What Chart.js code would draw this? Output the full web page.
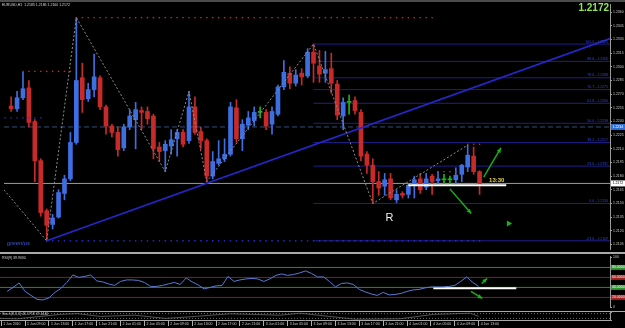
<!DOCTYPE html>
<html lang="en">
<head>
<meta charset="UTF-8">
<title>EURUSD,H1</title>
<script src="https://cdn.jsdelivr.net/npm/chart.js"></script>
<style>
  html, body { margin: 0; padding: 0; background: #000; }
  #wrap { position: relative; width: 625px; height: 328px; background: #000; overflow: hidden; }
  #wrap canvas { position: absolute; left: 0; }
  #main { top: 0; }
  #rsi { top: 253px; }
  #stoch { top: 311px; }
  .sep { position: absolute; left: 0; width: 625px; background: #a8a8a8; }
</style>
</head>
<body>
<div id="wrap">
  <canvas id="main" width="625" height="253"></canvas>
  <canvas id="rsi" width="625" height="58"></canvas>
  <canvas id="stoch" width="625" height="17"></canvas>
  <div class="sep" style="top:0;height:2px;background:#4c4c4c"></div>
  <div class="sep" style="top:252px;height:2px"></div>
  <div class="sep" style="top:311px;height:1px"></div>
</div>
<script>
// ---- data (EURUSD H1, 1 Jun 06:00 .. 4 Jun 13:00, one entry per bar) ----
const open = [1.2257,1.2254,1.2266,1.2277,1.2240,1.2197,1.2142,1.2127,1.2135,1.2161,
  1.2177,1.2217,1.2288,1.2265,1.2275,1.2288,1.2256,1.2235,1.2228,1.2211,
  1.2234,1.2242,1.2252,1.2251,1.2246,1.2212,1.2208,1.2213,1.2221,1.2228,
  1.2219,1.2256,1.2229,1.2219,1.2180,1.2194,1.2199,1.2204,1.2255,1.2221,
  1.2236,1.2241,1.2250,1.2250,1.2237,1.2248,1.2278,1.2293,1.2282,1.2293,
  1.2290,1.2316,1.2301,1.2293,1.2298,1.2281,1.2246,1.2261,1.2263,1.2250,
  1.2204,1.2192,1.2174,1.2169,1.2177,1.2154,1.2161,1.2160,1.2170,1.2177,
  1.2168,1.2180,1.2175,1.2176,1.2176,1.2176,1.2182,1.2190,1.2202,1.2185];
const high = [1.2267,1.2273,1.2294,1.2285,1.2242,1.2199,1.2144,1.2138,1.2165,1.2181,
  1.2228,1.2354,1.2304,1.2282,1.2314,1.2290,1.2258,1.2237,1.2234,1.2237,
  1.2253,1.2261,1.2256,1.2256,1.2248,1.2217,1.2219,1.2231,1.2231,1.2231,
  1.2273,1.2267,1.2234,1.2221,1.2207,1.2219,1.2221,1.2261,1.2264,1.2242,
  1.2251,1.2256,1.2256,1.2253,1.2256,1.2280,1.2307,1.2300,1.2297,1.2298,
  1.2320,1.2325,1.2318,1.2317,1.2315,1.2285,1.2266,1.2269,1.2267,1.2253,
  1.2207,1.2199,1.2185,1.2183,1.2183,1.2165,1.2163,1.2172,1.2180,1.2183,
  1.2183,1.2182,1.2185,1.2182,1.2180,1.2189,1.2193,1.2214,1.2212,1.2186];
const low = [1.2251,1.2251,1.2264,1.2234,1.2174,1.2136,1.2109,1.2122,1.2134,1.2154,
  1.2175,1.2215,1.2250,1.2262,1.2267,1.2253,1.2226,1.2223,1.2202,1.2208,
  1.2231,1.2210,1.2231,1.2237,1.2199,1.2196,1.2185,1.2204,1.2202,1.2212,
  1.2216,1.2226,1.2210,1.2174,1.2177,1.2192,1.2196,1.2202,1.2217,1.2208,
  1.2231,1.2235,1.2244,1.2231,1.2226,1.2246,1.2275,1.2276,1.2279,1.2280,
  1.2288,1.2283,1.2283,1.2283,1.2271,1.2242,1.2231,1.2248,1.2248,1.2197,
  1.2183,1.2150,1.2159,1.2159,1.2154,1.2151,1.2156,1.2156,1.2156,1.2161,
  1.2165,1.2160,1.2172,1.2171,1.2171,1.2172,1.2174,1.2185,1.2182,1.2160];
const close = [1.2254,1.2266,1.2276,1.2239,1.2197,1.2140,1.2126,1.2134,1.2162,1.2177,
  1.2217,1.2285,1.2264,1.2275,1.2289,1.2256,1.2235,1.2228,1.2209,1.2234,
  1.2246,1.2253,1.2250,1.2243,1.2210,1.2207,1.2215,1.2220,1.2228,1.2215,
  1.2256,1.2228,1.2219,1.2180,1.2196,1.2199,1.2204,1.2256,1.2221,1.2237,
  1.2244,1.2250,1.2250,1.2235,1.2251,1.2278,1.2294,1.2282,1.2291,1.2289,
  1.2316,1.2304,1.2292,1.2297,1.2282,1.2247,1.2261,1.2261,1.2252,1.2202,
  1.2192,1.2174,1.2167,1.2176,1.2156,1.2160,1.2159,1.2170,1.2176,1.2165,
  1.2177,1.2174,1.2177,1.2176,1.2176,1.2181,1.2192,1.2203,1.2185,1.2172];
const rsi = [32,40,49,32,24,16,15,19,30,38, 50,65,60,62,65,53,51,47,44,52,
  55,55,54,50,42,42,44,47,50,46, 59,51,45,37,40,43,44,62,52,55,
  57,58,57,52,57,64,67,64,66,69, 73,68,61,61,52,41,48,49,46,36,
  31,27,24,30,25,26,28,32,35,36, 39,41,41,41,42,44,52,61,50,42];
const stochBars = [-1.2,1.7,8.9,11.7,15.6,21.4,26.5,30.7,37.4,45.7,49.1,54.6,58.3,65.8,71.4,77.6,79];
const stochVals = [20,15,70,80,45,60,20,40,78,60,85,40,10,15,70,85,45];

// axis ticks
const priceTicks = [1.2105,1.2120,1.2135,1.2150,1.2165,1.2180,1.2195,1.2210,1.2225,
  1.2240,1.2255,1.2270,1.2285,1.2300,1.2315,1.2330,1.2345,1.2360];
const xTickBars = [-1,3,7,11,15,19,23,27,31,35,39,43,47,51,55,59,63,67,71,75,79];
const xTickLabels = ['1 Jun 2010','1 Jun 09:00','1 Jun 13:00','1 Jun 17:00','1 Jun 21:00',
  '2 Jun 01:00','2 Jun 05:00','2 Jun 09:00','2 Jun 13:00','2 Jun 17:00','2 Jun 21:00',
  '3 Jun 01:00','3 Jun 05:00','3 Jun 09:00','3 Jun 13:00','3 Jun 17:00','3 Jun 21:00',
  '4 Jun 01:00','4 Jun 05:00','4 Jun 09:00','4 Jun 13:00'];

// drawn objects
const zigzagBars = [-1.2,6,11,26,30,33,51,61,77];
const zigzagPrices = [1.2165,1.2109,1.2354,1.2185,1.2273,1.2174,1.2325,1.2150,1.2214];
const trendBars = [6,101];
const trendPrices = [1.2109,1.2331];
const fibStart = 51;
const fibLevels = [1.2325,1.2306,1.2288,1.2275,1.2260,1.2238,1.2217,1.2191,1.2150,1.2109];
const fibNames = ['100.0','88.6','78.6','70.7','61.8','50.0','38.2','23.6','0.0','-23.6'];
const resFrom = [2,11,72,77], resTo = [10,71,75,79];
const resPrice = [1.2295,1.2354,1.2185,1.2215];
const supFrom = [-1,6], supTo = [5,79];
const supPrice = [1.2244,1.2109];
const dashLevel = 1.2234;
const markBars = [67,83.5], markPrice = 1.2170;
const arrowsMain = [[79.7,1.2179,82.6,1.2211],[74.0,1.2166,77.6,1.2139]];
const triangleAt = {x: 83.9, y: 1.2128};
const rsiTitle = 'RSI(9) 39.9030';
const stochTitle = 'Stoch(8,3,3) 46.1758 47.4446';
const rsiLevels = [80,60,40,20];
const rsiMarkBars = [71.4,85.3], rsiMark = 38.5;
const arrowsRsi = [[79.5,48,80.4,58],[77.7,32,79.6,18]];

const FONT = 'Arial, "Liberation Sans", sans-serif';
const BLUE = '#3e6fe0', RED = '#c82a2a', GREEN = '#18b418';
const XMIN = -1.2, XMAX = 101;
const bars = open.map((_, i) => i);
const last = close.length - 1;
const candleColor = bars.map(i => close[i] > open[i] ? BLUE : close[i] < open[i] ? RED : GREEN);

function dots(from, to, price) {
  const pts = [];
  from.forEach((f, k) => { for (let i = f; i <= to[k]; i++) pts.push({ x: i, y: price[k] }); });
  return pts;
}
function hline(x0, x1, v) { return [{ x: x0, y: v }, { x: x1, y: v }]; }
function lineDs(data, color, extra) {
  return Object.assign({ type: 'line', data, borderColor: color, borderWidth: 1, pointRadius: 0, order: 1 }, extra || {});
}
function drawArrow(ctx, x0, y0, x1, y1, color) {
  const a = Math.atan2(y1 - y0, x1 - x0), h = 5;
  ctx.strokeStyle = color; ctx.fillStyle = color; ctx.lineWidth = 1.4;
  ctx.beginPath(); ctx.moveTo(x0, y0); ctx.lineTo(x1, y1); ctx.stroke();
  ctx.beginPath(); ctx.moveTo(x1, y1);
  ctx.lineTo(x1 - h * Math.cos(a - 0.45), y1 - h * Math.sin(a - 0.45));
  ctx.lineTo(x1 - h * Math.cos(a + 0.45), y1 - h * Math.sin(a + 0.45));
  ctx.closePath(); ctx.fill();
}
function rightAxis(extra, tickExtra) {
  return Object.assign({
    position: 'right',
    afterFit: s => { s.width = 15; },
    ticks: Object.assign({ color: '#c8c8c8', font: { size: 3.5, family: FONT }, padding: 1, crossAlign: 'near', autoSkip: false }, tickExtra || {}),
    grid: { drawOnChartArea: false, drawTicks: true, tickLength: 2, color: '#9a9a9a' },
    border: { display: true, color: '#9a9a9a' }
  }, extra);
}
const base = { responsive: false, animation: false, events: [], plugins: { legend: { display: false }, tooltip: { enabled: false } } };

// ---- main price panel ----
const mainOverlay = {
  id: 'mainOverlay',
  afterDraw(chart) {
    const { ctx, scales: { x, y } } = chart;
    ctx.save();
    arrowsMain.forEach(a => drawArrow(ctx, x.getPixelForValue(a[0]), y.getPixelForValue(a[1]),
      x.getPixelForValue(a[2]), y.getPixelForValue(a[3]), GREEN));
    // fib level captions
    ctx.font = '3.5px ' + FONT; ctx.fillStyle = '#3242d0'; ctx.textAlign = 'right'; ctx.textBaseline = 'bottom';
    fibLevels.forEach((v, i) => ctx.fillText(fibNames[i] + ' - ' + v.toFixed(4), chart.chartArea.right - 2, y.getPixelForValue(v) - 0.5));
    // text objects
    ctx.textBaseline = 'middle'; ctx.textAlign = 'center';
    ctx.font = '11px ' + FONT; ctx.fillStyle = '#f0f0f0';
    ctx.fillText('R', x.getPixelForValue(63.8), y.getPixelForValue(1.2134));
    ctx.font = 'bold 6px ' + FONT; ctx.fillStyle = '#e8d44a';
    ctx.fillText('13:30', x.getPixelForValue(81.9), y.getPixelForValue(1.2175));
    ctx.textAlign = 'left'; ctx.font = 'italic 6px ' + FONT; ctx.fillStyle = '#3a5ad6';
    ctx.fillText('greenius', x.getPixelForValue(-0.7), y.getPixelForValue(1.2106));
    ctx.font = '3.5px ' + FONT; ctx.fillStyle = '#d8d8d8'; ctx.textBaseline = 'top';
    ctx.fillText('EURUSD,H1  ' + [open[last], high[last], low[last], close[last]].map(v => v.toFixed(4)).join(' '), 2, 3);
    ctx.textAlign = 'right'; ctx.font = 'bold 10px ' + FONT; ctx.fillStyle = '#8ee65a';
    ctx.fillText(close[last].toFixed(4), chart.chartArea.right - 1, 3);
    // highlighted price boxes on the axis
    [[dashLevel, '#2f6fd8', '#ffffff'], [close[last], '#ffffff', '#000000']].forEach(([v, bg, fg]) => {
      const py = y.getPixelForValue(v);
      ctx.fillStyle = bg; ctx.fillRect(chart.chartArea.right + 1, py - 3, 14, 6);
      ctx.fillStyle = fg; ctx.font = '3.5px ' + FONT; ctx.textAlign = 'left'; ctx.textBaseline = 'middle';
      ctx.fillText(v.toFixed(4), chart.chartArea.right + 2.5, py);
    });
    ctx.restore();
  }
};

new Chart(document.getElementById('main'), {
  type: 'bar',
  data: {
    datasets: [
      lineDs(hline(XMIN, XMAX, dashLevel), '#34507a', { borderDash: [5, 3], order: 9 }),
      lineDs(hline(XMIN, XMAX, close[last]), '#9c9c9c', { order: 9 }),
      ...fibLevels.map(v => lineDs(hline(fibStart, XMAX, v), '#1e1e8e', { order: 8 })),
      { data: bars.map(i => ({ x: i, y: [low[i], high[i]] })), backgroundColor: candleColor,
        barThickness: 1, grouped: false, order: 6 },
      { data: bars.map(i => ({ x: i, y: [open[i], close[i]] })), backgroundColor: candleColor,
        barThickness: 4, minBarLength: 1, grouped: false, order: 5 },
      lineDs(zigzagBars.map((b, i) => ({ x: b, y: zigzagPrices[i] })), '#8c8c8c', { borderDash: [2, 2] }),
      lineDs(trendBars.map((b, i) => ({ x: b, y: trendPrices[i] })), '#2626cc', { borderWidth: 1.6 }),
      lineDs(hline(markBars[0], markBars[1], markPrice), '#ffffff', { borderWidth: 2 }),
      lineDs(dots(resFrom, resTo, resPrice), '#e02424', { showLine: false, pointRadius: 1, pointStyle: 'rect', pointBackgroundColor: '#e02424', pointBorderWidth: 0 }),
      lineDs(dots(supFrom, supTo, supPrice), '#2a2ad8', { showLine: false, pointRadius: 1, pointStyle: 'rect', pointBackgroundColor: '#2a2ad8', pointBorderWidth: 0 }),
      lineDs([triangleAt], GREEN, { showLine: false, pointRadius: 3.5, pointStyle: 'triangle', pointRotation: 90, pointBackgroundColor: GREEN, pointBorderWidth: 0 })
    ]
  },
  options: Object.assign({}, base, {
    layout: { padding: { top: 3, bottom: 1, left: 0, right: 0 } },
    scales: {
      x: { type: 'linear', min: XMIN, max: XMAX, offset: false, display: false },
      y: rightAxis({ min: 1.2100, max: 1.2369,
        afterBuildTicks: s => { s.ticks = priceTicks.map(v => ({ value: v })); } },
        { callback: v => v.toFixed(4) })
    }
  }),
  plugins: [mainOverlay]
});

// ---- RSI panel ----
const rsiOverlay = {
  id: 'rsiOverlay',
  afterDraw(chart) {
    const { ctx, scales: { x, y } } = chart;
    ctx.save();
    arrowsRsi.forEach(a => drawArrow(ctx, x.getPixelForValue(a[0]), y.getPixelForValue(a[1]),
      x.getPixelForValue(a[2]), y.getPixelForValue(a[3]), GREEN));
    ctx.font = '3.5px ' + FONT; ctx.fillStyle = '#d8d8d8'; ctx.textAlign = 'left'; ctx.textBaseline = 'top';
    ctx.fillText(rsiTitle, 2, 3);
    rsiLevels.forEach((v, i) => {
      const py = y.getPixelForValue(v);
      ctx.fillStyle = i % 2 ? '#a82020' : '#2e962e';
      ctx.fillRect(chart.chartArea.right + 1, py - 2.5, 14, 5);
      ctx.fillStyle = '#ffffff'; ctx.textBaseline = 'middle';
      ctx.fillText(v.toFixed(4), chart.chartArea.right + 2, py);
    });
    ctx.restore();
  }
};

new Chart(document.getElementById('rsi'), {
  type: 'line',
  data: {
    datasets: [
      ...rsiLevels.map((v, i) => lineDs(hline(XMIN, XMAX, v), i % 2 ? '#8c1c1c' : '#2e8a2e', { order: 5 })),
      lineDs(bars.map(i => ({ x: i, y: rsi[i] })), '#5a7ad2'),
      lineDs(hline(rsiMarkBars[0], rsiMarkBars[1], rsiMark), '#ffffff', { borderWidth: 2 })
    ]
  },
  options: Object.assign({}, base, {
    layout: { padding: 0 },
    scales: {
      x: { type: 'linear', min: XMIN, max: XMAX, offset: false, display: false },
      y: rightAxis({ min: -1, max: 102.7,
        afterBuildTicks: s => { s.ticks = [{ value: 0 }, { value: 100 }]; } })
    }
  }),
  plugins: [rsiOverlay]
});

// ---- Stochastic panel with the time axis ----
const stochOverlay = {
  id: 'stochOverlay',
  afterDraw(chart) {
    const { ctx } = chart;
    ctx.save();
    ctx.font = '3.5px ' + FONT; ctx.fillStyle = '#d0d0d0'; ctx.textAlign = 'left'; ctx.textBaseline = 'top';
    ctx.fillText(stochTitle, 2, 1.5);
    ctx.restore();
  }
};

new Chart(document.getElementById('stoch'), {
  type: 'line',
  data: {
    datasets: [
      lineDs(hline(XMIN, XMAX, 80), '#6a6a6a', { borderDash: [1, 2] }),
      lineDs(hline(XMIN, XMAX, 20), '#6a6a6a', { borderDash: [1, 2] }),
      lineDs(stochBars.map((b, i) => ({ x: b, y: stochVals[i] })), '#555555')
    ]
  },
  options: Object.assign({}, base, {
    layout: { padding: { top: 1, bottom: 0, left: 0, right: 0 } },
    scales: {
      x: { type: 'linear', min: XMIN, max: XMAX, offset: false,
        afterFit: s => { s.height = 8; },
        afterBuildTicks: s => { s.ticks = xTickBars.map(v => ({ value: v })); },
        ticks: { autoSkip: false, maxRotation: 0, align: 'start', color: '#d4d4d4',
          font: { size: 3.5, family: FONT }, padding: -4, labelOffset: 2,
          callback: (v, i) => xTickLabels[i] },
        grid: { drawOnChartArea: false, drawTicks: true, tickLength: 6, color: '#b0b0b0' },
        border: { display: true, color: '#a8a8a8' } },
      y: rightAxis({ min: 0, max: 100 }, { display: false })
    }
  }),
  plugins: [stochOverlay]
});
</script>
</body>
</html>
